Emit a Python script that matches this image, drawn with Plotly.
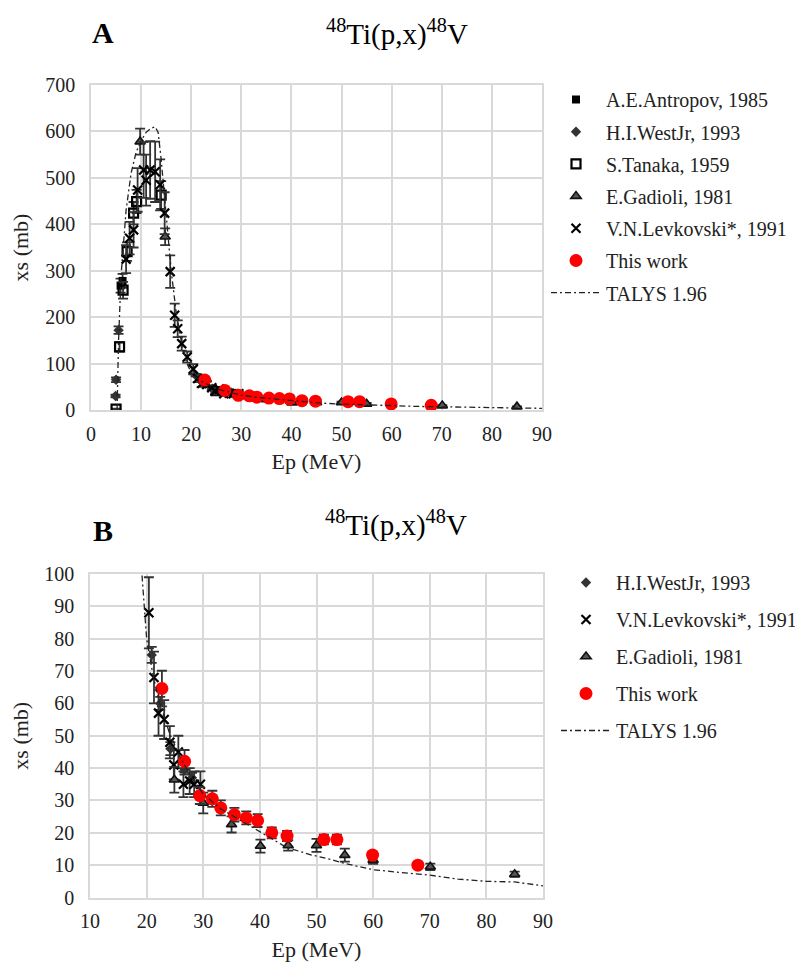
import plotly.graph_objects as go

# ---------------- data ----------------
ant_E = [5.9, 6.3]
ant_xs = [268, 278]
ant_err = [15, 15]

west_E = [4.9, 5.0, 5.5, 20.9, 22.4, 24.2, 26.7, 28.0]
west_xs = [30, 65, 172, 75, 60, 46, 39.5, 37]
west_err = [3, 5, 8, 2.5, 2, 2, 1.5, 1.5]

tan_E = [5.0, 5.7, 6.4, 7.2, 8.5, 9.1, 14.0]
tan_xs = [2, 136, 258, 341, 424, 449, 463]
tan_err = [1, 10, 18, 20, 24, 25, 30]

gad_E = [9.8, 14.8, 24.9, 30.0, 35.0, 40.1, 45.0, 50.0, 55.0, 60.0, 70.1, 85.0]
gad_xs = [578, 373, 36.4, 29.2, 22.6, 15.9, 16.1, 16.1, 13.1, 11.6, 9.5, 7.2]
gad_err = [28, 18, 4, 3.2, 2.5, 2, 1.6, 2, 2, 1.2, 1, 0.8]

lev_E = [7.0, 7.7, 8.5, 9.3, 10.5, 11.0, 11.8, 12.8, 13.8, 14.7, 15.8, 16.7, 17.3,
         18.1, 19.2, 20.4, 21.3, 22.1, 23.1, 24.1, 24.8, 25.6, 26.5, 27.6, 28.4, 29.5]
lev_xs = [325, 370, 388, 474, 517, 495, 517, 513, 485, 424, 298, 204, 175,
          143, 114, 88, 68, 57, 55, 48, 41, 45, 35, 36, 35, 35]
lev_err = [30, 35, 38, 47, 60, 55, 62, 65, 55, 45, 35, 25, 18,
           15, 12, 11, 8, 7, 6, 5, 4.5, 5, 4, 4, 4, 4]

tw_E = [22.7, 26.7, 29.4, 31.6, 33.1, 35.5, 37.6, 39.6, 42.1, 44.8, 51.3, 53.6, 59.9, 67.9]
tw_xs = [64.6, 42.1, 31.5, 30.5, 27.7, 25.6, 24.6, 23.8, 20.0, 19.0, 17.9, 17.9, 13.1, 10.0]
tw_err = [5.5, 3.5, 2.6, 2.5, 2.3, 2.1, 2.0, 2.0, 1.7, 1.6, 1.5, 1.5, 1.1, 0.9]

tal_E = [5.2, 5.5, 6.0, 6.5, 7.0, 8.0, 9.0, 10.0, 11.0, 12.0, 12.8, 13.4, 14.0, 15.0,
         16.0, 17.0, 18.0, 19.0, 20.0, 21.0, 22.0, 24.0, 26.0, 28.0, 30.0, 33.0, 36.0,
         38.0, 40.0, 42.0, 44.0, 46.0, 49.0, 52.0, 55.0, 60.0, 65.0, 70.0, 75.0, 80.0,
         85.0, 90.0]
tal_xs = [0, 150, 290, 360, 430, 510, 555, 580, 598, 607, 610, 598, 540, 420,
          300, 210, 150, 104, 80, 70, 62, 51, 43, 37, 32, 27.5, 24.5,
          22.5, 20.5, 18.3, 16.2, 14.8, 13.2, 12.0, 10.5, 8.6, 7.7, 6.9, 5.7, 5.0,
          4.8, 3.6]

x_ticks_A = list(range(0, 91, 10))
y_ticks_A = list(range(0, 701, 100))
x_ticks_B = list(range(10, 91, 10))
y_ticks_B = list(range(0, 101, 10))

title_text = "<sup>48</sup>Ti(p,x)<sup>48</sup>V"

# ---------------- styling ----------------
FONT = "Liberation Serif"
ERRC = "#333333"
DARK = "#333333"

def err(a):
    return dict(type="data", array=a, color=ERRC, thickness=1.8, width=5)

styles = {
    "ant": dict(name="A.E.Antropov, 1985", marker=dict(symbol="square", size=8, color="black")),
    "west": dict(name="H.I.WestJr, 1993", marker=dict(symbol="diamond", size=8, color=DARK)),
    "tan": dict(name="S.Tanaka, 1959", marker=dict(symbol="square-open", size=9, color="black",
                                                   line=dict(width=2.2, color="black"))),
    "gad": dict(name="E.Gadioli, 1981", marker=dict(symbol="triangle-up", size=9, color="#555555",
                                                    line=dict(width=1.6, color="#111111"))),
    "lev": dict(name="V.N.Levkovski*, 1991", marker=dict(symbol="x-thin-open", size=9, color="black",
                                                         line=dict(width=2.2, color=DARK))),
    "tw": dict(name="This work", marker=dict(symbol="circle", size=13, color="#ff0000")),
}
data = {
    "ant": (ant_E, ant_xs, ant_err),
    "west": (west_E, west_xs, west_err),
    "tan": (tan_E, tan_xs, tan_err),
    "gad": (gad_E, gad_xs, gad_err),
    "lev": (lev_E, lev_xs, lev_err),
    "tw": (tw_E, tw_xs, tw_err),
}

fig = go.Figure()

def add_panel(keys, xa, ya, leg):
    for i, k in enumerate(keys):
        E, xs, e = data[k]
        st = styles[k]
        fig.add_trace(go.Scatter(
            x=E, y=xs, mode="markers", name=st["name"], marker=st["marker"],
            error_y=err(e), xaxis=xa, yaxis=ya, legend=leg,
            legendgroup=leg + k, legendrank=i + 1))
    fig.add_trace(go.Scatter(
        x=tal_E, y=tal_xs, mode="lines", name="TALYS 1.96",
        line=dict(color="#222222", width=1.3, dash="6px,3px,2px,3px"),
        xaxis=xa, yaxis=ya, legend=leg, legendgroup=leg + "tal", legendrank=99))

add_panel(["ant", "west", "tan", "gad", "lev", "tw"], "x", "y", "legend")
add_panel(["west", "lev", "gad", "tw"], "x2", "y2", "legend2")

# page body has an 8px margin; figure is sized to fit inside the window
OFF = 8
W, H = 803 - OFF, 965 - OFF
def px(x):
    return (x - OFF) / W
def py(y):
    return 1 - (y - OFF) / H

axis_common = dict(showgrid=True, gridcolor="#d9d9d9", gridwidth=1.5,
                   showline=True, linecolor="#d9d9d9", linewidth=1.5, mirror=True,
                   zeroline=False, ticks="outside", tickcolor="rgba(0,0,0,0)",
                   automargin=False,
                   tickfont=dict(family=FONT, size=20, color="#222"))
title_font = dict(family=FONT, size=22, color="#222")

legend_common = dict(font=dict(family=FONT, size=20, color="#222"),
                     bgcolor="rgba(0,0,0,0)", itemwidth=50,
                     xanchor="left", yanchor="top", traceorder="grouped")

def ann(text, x, y, size, bold=False):
    return dict(text=("<b>%s</b>" % text) if bold else text, x=px(x), y=py(y),
                xref="paper", yref="paper", showarrow=False,
                xanchor="center", yanchor="middle",
                font=dict(family=FONT, size=size, color="black"))

fig.update_layout(
    template="none",
    width=W, height=H, margin=dict(l=0, r=0, t=0, b=0, autoexpand=False),
    paper_bgcolor="white", plot_bgcolor="white",
    xaxis=dict(axis_common, domain=[px(91), px(542)], range=[0, 90], tickvals=x_ticks_A,
               ticklen=5, anchor="y",
               title=dict(text="Ep (MeV)", font=title_font, standoff=10)),
    yaxis=dict(axis_common, domain=[py(410), py(85)], range=[0, 700], tickvals=y_ticks_A,
               ticklen=10, anchor="x",
               title=dict(text="xs (mb)", font=title_font, standoff=12)),
    xaxis2=dict(axis_common, domain=[px(90), px(543)], range=[10, 90], tickvals=x_ticks_B,
                ticklen=5, anchor="y2",
                title=dict(text="Ep (MeV)", font=title_font, standoff=10)),
    yaxis2=dict(axis_common, domain=[py(897.5), py(574)], range=[0, 100], tickvals=y_ticks_B,
                ticklen=10, anchor="x2",
                title=dict(text="xs (mb)", font=title_font, standoff=12)),
    legend=dict(legend_common, x=px(546), y=py(80), tracegroupgap=3.2),
    legend2=dict(legend_common, x=px(556), y=py(563), tracegroupgap=8),
    showlegend=True,
    annotations=[
        ann("A", 103, 33, 30, bold=True),
        ann("B", 103, 530, 30, bold=True),
        ann(title_text, 397, 33, 29),
        ann(title_text, 396, 523, 29),
    ],
)

fig.write_html("out.html")
